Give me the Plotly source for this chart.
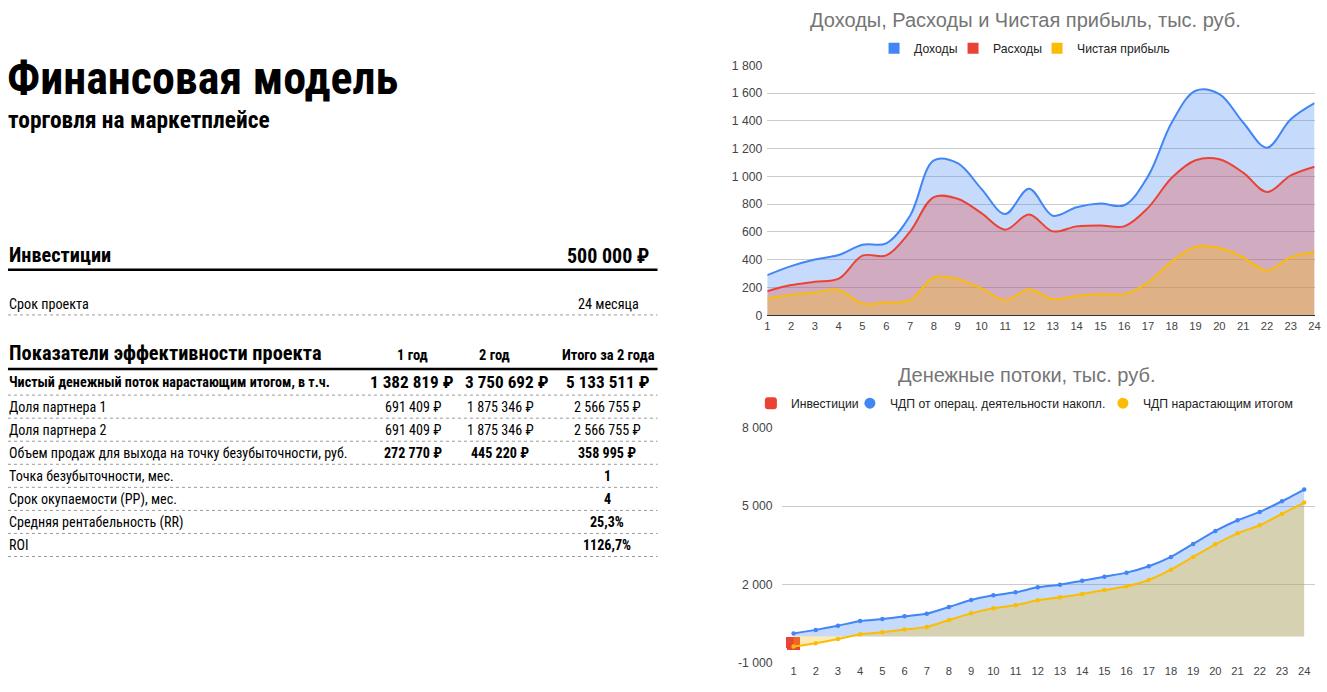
import plotly.graph_objects as go

W, H = 1327, 692
# the photographed picture shows the page with an 8px band above and below, squeezed back to H
KY = H / (H + 16)

# ---------------- data ----------------
months = list(range(1, 25))
month_labels = [str(m) for m in months]

income = [289, 354, 402, 434, 508, 518, 716, 1115, 1095, 910, 729, 911,
          717, 778, 804, 792, 1000, 1388, 1617, 1593, 1388, 1207, 1412, 1528]
expenses = [173, 217, 241, 263, 429, 431, 602, 851, 839, 735, 616, 725,
            604, 640, 647, 640, 773, 990, 1116, 1123, 1027, 887, 1007, 1070]
net_profit = [120, 145, 164, 181, 84, 92, 108, 272, 260, 193, 109, 186,
              116, 138, 152, 152, 236, 388, 492, 484, 417, 323, 417, 455]

top_yticks = [0, 200, 400, 600, 800, 1000, 1200, 1400, 1600, 1800]
top_yticklabels = ["0", "200", "400", "600", "800", "1 000", "1 200", "1 400", "1 600", "1 800"]

invest_month = [1]
investment = [-500]
cf_operating_cum = [112, 250, 410, 590, 668, 772, 872, 1128, 1396, 1576, 1691, 1883,
                    1985, 2139, 2292, 2446, 2689, 3048, 3547, 4046, 4456, 4776, 5185, 5634]
cf_total_cum = [-390, -262, -98, 80, 158, 262, 365, 628, 884, 1076, 1192, 1383,
                1499, 1627, 1780, 1921, 2164, 2561, 3048, 3534, 3956, 4264, 4699, 5134]

bot_yticks = [-1000, 2000, 5000, 8000]
bot_yticklabels = ["-1 000", "2 000", "5 000", "8 000"]

top_title = "Доходы, Расходы и Чистая прибыль, тыс. руб."
bot_title = "Денежные потоки, тыс. руб."
top_names = ["Доходы", "Расходы", "Чистая прибыль"]
bot_names = ["Инвестиции", "ЧДП от операц. деятельности накопл.", "ЧДП нарастающим итогом"]

doc_title = "Финансовая модель"
doc_subtitle = "торговля на маркетплейсе"
invest_label = "Инвестиции"
invest_value = "500 000 ₽"
term_label = "Срок проекта"
term_value = "24 месяца"
kpi_header = "Показатели эффективности проекта"
col_headers = ["1 год", "2 год", "Итого за 2 года"]
row_labels = [
    "Чистый денежный поток нарастающим итогом, в т.ч.",
    "Доля партнера 1",
    "Доля партнера 2",
    "Объем продаж для выхода на точку безубыточности, руб.",
    "Точка безубыточности, мес.",
    "Срок окупаемости (PP), мес.",
    "Средняя рентабельность (RR)",
    "ROI",
]
row_values = [
    ["1 382 819 ₽", "3 750 692 ₽", "5 133 511 ₽"],
    ["691 409 ₽", "1 875 346 ₽", "2 566 755 ₽"],
    ["691 409 ₽", "1 875 346 ₽", "2 566 755 ₽"],
    ["272 770 ₽", "445 220 ₽", "358 995 ₽"],
    ["", "", "1"],
    ["", "", "4"],
    ["", "", "25,3%"],
    ["", "", "1126,7%"],
]

BLUE, RED, YELLOW = "#4285F4", "#EA4335", "#FBBC04"
BLUE_F, RED_F, YELLOW_F = "rgba(66,133,244,0.3)", "rgba(234,67,53,0.3)", "rgba(251,188,4,0.3)"

NARROW = "Roboto Condensed, Liberation Sans Narrow, sans-serif"
CHART_FONT = "Liberation Sans, Arial, sans-serif"


def px(x):
    return x / W


def py(y):
    return 1 - (y / KY - 8) / H


fig = go.Figure()

# ---------------- top chart ----------------
for name, vals, col, fc in zip(top_names, [income, expenses, net_profit],
                               [BLUE, RED, YELLOW], [BLUE_F, RED_F, YELLOW_F]):
    fig.add_trace(go.Scatter(
        x=months, y=vals, mode="lines", name=name, showlegend=False,
        line=dict(color=col, width=2, shape="spline", smoothing=1),
        fill="tozeroy", fillcolor=fc, hoverinfo="skip", xaxis="x", yaxis="y"))
for name, col, lw in zip(top_names, [BLUE, RED, YELLOW], [34, 39, 91]):
    fig.add_trace(go.Scatter(
        x=[None], y=[None], mode="markers", name=name, legend="legend", legendwidth=lw,
        marker=dict(symbol="square", size=11, color=col), xaxis="x", yaxis="y"))

# ---------------- bottom chart ----------------
fig.add_trace(go.Bar(
    x=invest_month, y=investment, name=bot_names[0], width=0.66, legendwidth=54,
    marker=dict(color=RED, cornerradius=2, line=dict(width=0)),
    legend="legend2", hoverinfo="skip", xaxis="x2", yaxis="y2"))
for name, vals, col, fc in zip(bot_names[1:], [cf_operating_cum, cf_total_cum],
                               [BLUE, YELLOW], [BLUE_F, YELLOW_F]):
    fig.add_trace(go.Scatter(
        x=months, y=vals, mode="lines+markers", name=name, showlegend=False,
        line=dict(color=col, width=2, shape="spline", smoothing=0.6),
        marker=dict(size=4.5, color=col),
        fill="tozeroy", fillcolor=fc, hoverinfo="skip", xaxis="x2", yaxis="y2"))
for name, col, lw in zip(bot_names[1:], [BLUE, YELLOW], [208, 147]):
    fig.add_trace(go.Scatter(
        x=[None], y=[None], mode="markers", name=name, legend="legend2", legendwidth=lw,
        marker=dict(symbol="circle", size=11, color=col), xaxis="x2", yaxis="y2"))

fig.update_layout(
    width=W, height=H, margin=dict(l=0, r=0, t=0, b=0),
    paper_bgcolor="white", plot_bgcolor="white",
    hovermode=False,
    font=dict(family=CHART_FONT, color="#222222"),
    xaxis=dict(domain=[px(769.5), px(1320.5)], range=[1, 24], anchor="y",
               tickvals=months, ticktext=month_labels, showgrid=False,
               showline=True, linecolor="#333333", linewidth=1, layer="above traces",
               zeroline=False, ticks="",
               tickfont=dict(family=CHART_FONT, size=11.2, color="#444444")),
    yaxis=dict(domain=[py(315.3), py(66)], range=[0, 1800], anchor="x",
               tickvals=top_yticks, ticktext=top_yticklabels,
               showgrid=True, gridcolor="#cccccc", gridwidth=1, zeroline=False,
               showline=False, ticks="", ticklabelstandoff=4,
               tickfont=dict(family=CHART_FONT, size=12.2, color="#444444")),
    xaxis2=dict(domain=[px(784.8), px(1321.2)], range=[0.5, 24.5], anchor="y2",
                tickvals=months, ticktext=month_labels, showgrid=False,
                showline=False, zeroline=False, ticks="",
                tickfont=dict(family=CHART_FONT, size=11.2, color="#444444")),
    yaxis2=dict(domain=[py(661.7), py(427.7)], range=[-1000, 8000], anchor="x2",
                tickvals=bot_yticks, ticktext=bot_yticklabels,
                showgrid=True, gridcolor="#cccccc", gridwidth=1, zeroline=False,
                showline=False, ticks="", ticklabelstandoff=9,
                tickfont=dict(family=CHART_FONT, size=12.2, color="#444444")),
    legend=dict(orientation="h", x=px(877), xanchor="left", y=py(49), yanchor="middle",
                font=dict(family=CHART_FONT, size=12.2, color="#222222"),
                bgcolor="rgba(0,0,0,0)", itemwidth=30, tracegroupgap=0),
    legend2=dict(orientation="h", x=px(753), xanchor="left", y=py(403), yanchor="middle",
                 font=dict(family=CHART_FONT, size=12.2, color="#222222"),
                 bgcolor="rgba(0,0,0,0)", itemwidth=30, tracegroupgap=0),
    bargap=0,
)

annotations = []


def text(t, x, y, size, bold=False, anchor="left", family=NARROW, color="#000000"):
    annotations.append(dict(
        text=("<b>%s</b>" % t) if bold else t, x=px(x), y=py(y),
        xref="paper", yref="paper", xanchor=anchor, yanchor="middle",
        showarrow=False, font=dict(family=family, size=size, color=color)))


# chart titles
text(top_title, 1029.5, 21, 20, anchor="center", family=CHART_FONT, color="#757575")
text(bot_title, 1030, 375, 20, anchor="center", family=CHART_FONT, color="#757575")

# left panel
text(doc_title, 2.0, 79, 46, bold=True)
text(doc_subtitle, 2.9, 120.5, 23.4, bold=True)
text(invest_label, 3.9, 255, 20.3, bold=True)
text(invest_value, 652, 256, 20, bold=True, anchor="right")
text(term_label, 3.9, 304, 14.2)
text(term_value, 610, 304, 14.2, anchor="center")
text(kpi_header, 3.9, 353, 20.4, bold=True)

header_x = [412.5, 494.5, 610]
for cx, h in zip(header_x, col_headers):
    text(h, cx, 355, 14.5, bold=True, anchor="center")

first_row_x = [411.5, 507.5, 609]
col_x = [412.5, 500.5, 608.5]
row_y = [382, 407, 430, 453, 476, 499, 522, 545]
for i, (lab, vals, ry) in enumerate(zip(row_labels, row_values, row_y)):
    text(lab, 3.9, ry, 14.1, bold=(i == 0))
    xs = first_row_x if i == 0 else col_x
    for cx, v in zip(xs, vals):
        if v:
            if i == 0:
                text(v, cx, ry, 17.2, bold=True, anchor="center")
            else:
                text(v, cx, ry, 14.1, bold=(i >= 3), anchor="center")

shapes = []


def hline(y, width, color, dash="solid"):
    shapes.append(dict(type="line", xref="paper", yref="paper",
                       x0=px(5), x1=px(659), y0=py(y), y1=py(y),
                       line=dict(color=color, width=width, dash=dash)))


hline(270, 2.5, "#000000")
hline(315, 1, "#999999", "dot")
hline(369, 2.5, "#000000")
for ly in [395, 418, 441, 464, 487, 510, 533, 556]:
    hline(ly, 1, "#999999", "dot")

fig.update_layout(annotations=annotations, shapes=shapes)

fig.write_html("out.html", config={"displayModeBar": False},
               post_script="document.body.style.margin='0';document.body.style.overflow='hidden';")
